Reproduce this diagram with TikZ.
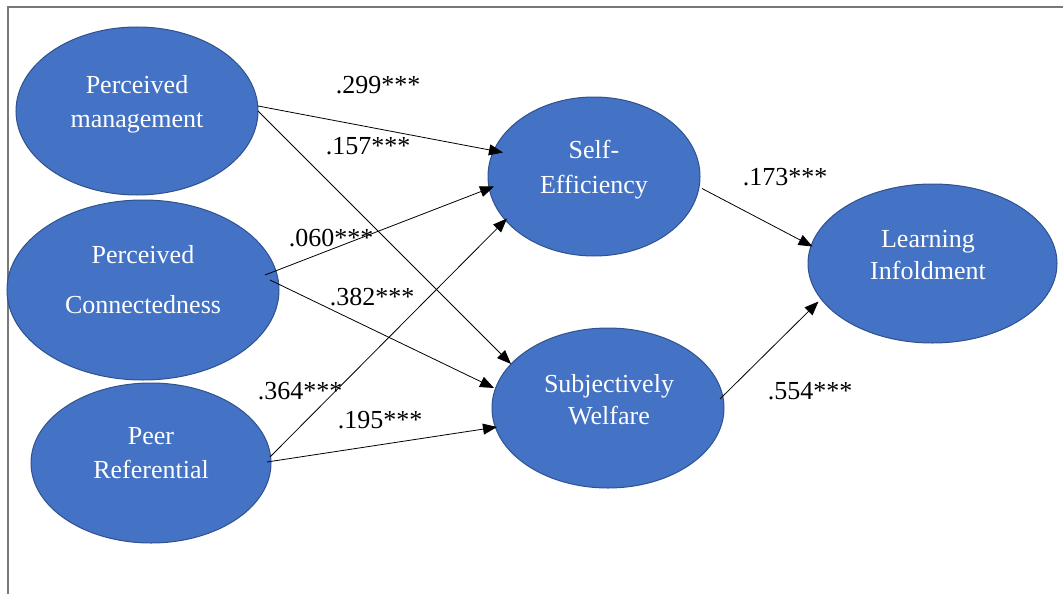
\documentclass[tikz,border=0pt]{standalone}
\usepackage{fontspec}
\setmainfont{Liberation Serif}
\usetikzlibrary{shapes.geometric,arrows.meta,calc}
\definecolor{ovalfill}{HTML}{4472C4}
\definecolor{ovaldraw}{HTML}{2F528F}
\definecolor{framegray}{RGB}{120,120,120}
\tikzset{
  oval/.style={ellipse, fill=ovalfill, draw=ovaldraw, line width=1pt, inner sep=0pt},
  ovaltext/.style={anchor=base, text=white, inner sep=0pt, font=\fontsize{26}{30}\selectfont},
  coef/.style={anchor=base, text=black, inner sep=0pt, font=\fontsize{26}{30}\selectfont},
  path/.style={draw=black, line width=0.8pt, -{Triangle[length=14pt,width=11pt]}}
}
\begin{document}
\begin{tikzpicture}[x=1pt,y=-1pt]
\useasboundingbox (0,0) rectangle (1063,594);
\draw[framegray, line width=1.3pt] (8,594) -- (8,7) -- (1063,7);

% ellipses
\node[oval, minimum width=242pt, minimum height=168pt] (pm) at (137,111) {};
\node[oval, minimum width=272pt, minimum height=180pt] (pc) at (143,290) {};
\node[oval, minimum width=240pt, minimum height=160pt] (pr) at (151,463) {};
\node[oval, minimum width=212pt, minimum height=159pt] (se) at (594,176.5) {};
\node[oval, minimum width=232pt, minimum height=160pt] (sw) at (608,408) {};
\node[oval, minimum width=249pt, minimum height=159pt] (li) at (932.5,263.5) {};

% texts in ellipses
\node[ovaltext] (pm1) at (137,93) {Perceived};
\node[ovaltext] (pm2) at (137,127) {management};
\node[ovaltext] (pc1) at (143,263) {Perceived};
\node[ovaltext] (pc2) at (143,313) {Connectedness};
\node[ovaltext] (pr1) at (151,444) {Peer};
\node[ovaltext] (pr2) at (151,478) {Referential};
\node[ovaltext] (se1) at (594,158) {Self-};
\node[ovaltext] (se2) at (594,193) {Efficiency};
\node[ovaltext] (sw1) at (609,392) {Subjectively};
\node[ovaltext] (sw2) at (609,424) {Welfare};
\node[ovaltext] (li1) at (928,247) {Learning};
\node[ovaltext] (li2) at (928,279) {Infoldment};

% connectors
\draw[path] ($(pm)+(121,-5)$) -- ($(se)+(-91,-24)$);
\draw[path] ($(pm)+(121,0)$) -- ($(sw)+(-97,-44)$);
\draw[path] ($(pc)+(122,-15)$) -- ($(se)+(-100,10)$);
\draw[path] ($(pc)+(127,-10)$) -- ($(sw)+(-114,-20)$);
\draw[path] ($(pr)+(119,-6)$) -- ($(se)+(-87,42)$);
\draw[path] ($(pr)+(116,-1)$) -- ($(sw)+(-111,19)$);
\draw[path] ($(se)+(108,12)$) -- ($(li)+(-120,-17)$);
\draw[path] ($(sw)+(112,-9)$) -- ($(li)+(-114,38)$);

% coefficients
\node[coef] (c1) at (378,93) {.299***};
\node[coef] (c2) at (368,154) {.157***};
\node[coef] (c3) at (331,246) {.060***};
\node[coef] (c4) at (372,305) {.382***};
\node[coef] (c5) at (300,399) {.364***};
\node[coef] (c6) at (380,428) {.195***};
\node[coef] (c7) at (785,185) {.173***};
\node[coef] (c8) at (810,399) {.554***};
\end{tikzpicture}
\end{document}
